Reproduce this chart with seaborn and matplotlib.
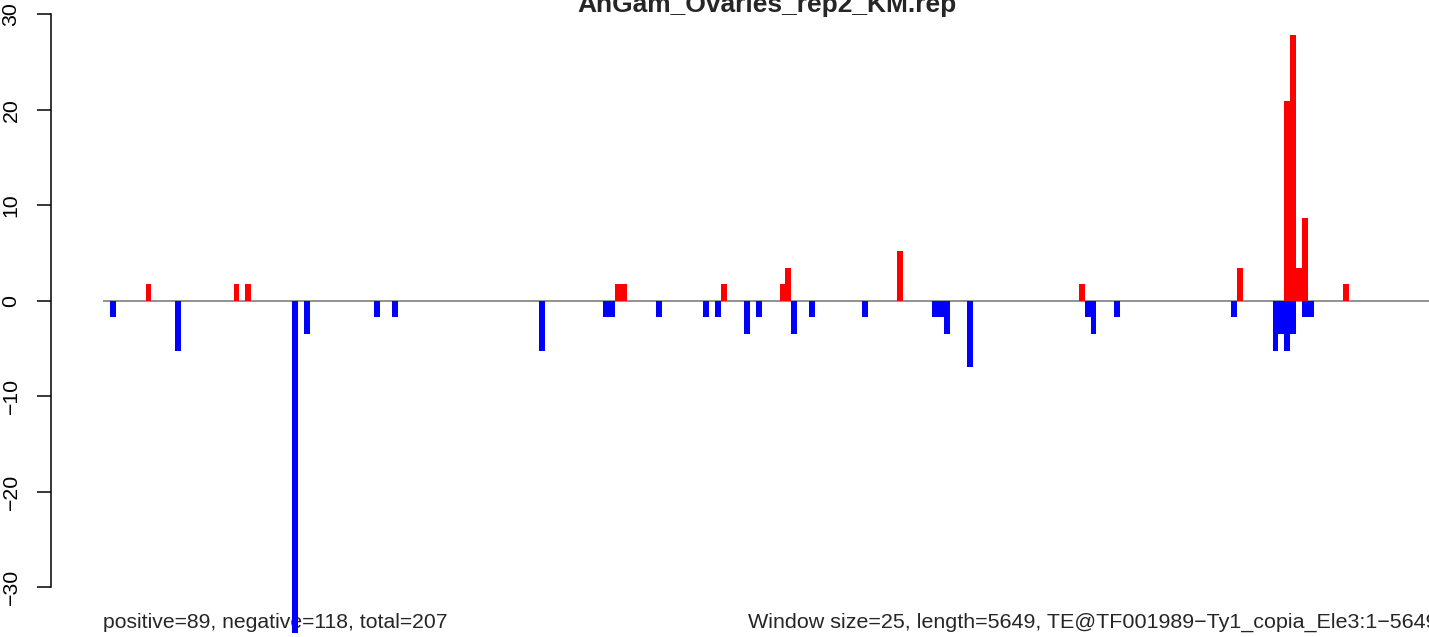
import numpy as np
import pandas as pd
import matplotlib
matplotlib.use("Agg")
import matplotlib.pyplot as plt
import seaborn as sns

# window size 25 over a 5649 bp element -> 226 windows
n_windows = 226

# windows with reads on the + strand (red) and their values
pos_windows = [7, 22, 24, 87, 88, 105, 115, 116, 135, 166, 193, 201, 202, 203, 204, 211]
pos_values = [1.74, 1.74, 1.74, 1.74, 1.74, 1.74, 1.74, 3.48, 5.22, 1.74, 3.48,
              20.88, 27.84, 3.48, 8.70, 1.74]

# windows with reads on the - strand (blue) and their values
neg_windows = [1, 12, 32, 34, 46, 49, 74, 85, 86, 94, 102, 104, 109, 111, 117, 120,
               129, 141, 142, 143, 147, 167, 168, 172, 192, 199, 200, 201, 202, 204, 205]
neg_values = [-1.74, -5.22, -34.80, -3.48, -1.74, -1.74, -5.22, -1.74, -1.74, -1.74,
              -1.74, -1.74, -3.48, -1.74, -3.48, -1.74, -1.74, -1.74, -1.74, -3.48,
              -6.96, -1.74, -3.48, -1.74, -1.74, -5.22, -3.48, -5.22, -3.48, -1.74, -1.74]

title = "AnGam_Ovaries_rep2_KM.rep"
left_note = "positive=89, negative=118, total=207"
right_note = "Window size=25, length=5649, TE@TF001989\u2212Ty1_copia_Ele3:1\u22125649"

# full table, one row per window
pos = np.zeros(n_windows)
neg = np.zeros(n_windows)
pos[pos_windows] = pos_values
neg[neg_windows] = neg_values
df = pd.DataFrame({"window": np.arange(n_windows), "pos": pos, "neg": neg})

sns.set_style("white")
plt.rcParams["font.family"] = ["Liberation Sans", "DejaVu Sans"]

W, H = 1429, 637
fig = plt.figure(figsize=(W / 100, H / 100), dpi=100)
ax = fig.add_axes([103.3 / W, 0, (W - 103.3) / W, 1])
ax.patch.set_visible(False)

ax.axhline(0, color="#7f7f7f", lw=1.2, zorder=1)
sns.barplot(data=df, x="window", y="pos", color="#ff0000", saturation=1, width=1,
            native_scale=True, errorbar=None, linewidth=0, ax=ax, zorder=2)
sns.barplot(data=df, x="window", y="neg", color="#0000ff", saturation=1, width=1,
            native_scale=True, errorbar=None, linewidth=0, ax=ax, zorder=2)

ax.set_xlim(-0.7, 225.15)
ax.set_ylim(-35.21, 31.49)
ax.set_xlabel("")
ax.set_ylabel("")
ax.set_xticks([])

for s in ["top", "right", "bottom"]:
    ax.spines[s].set_visible(False)
ax.spines["left"].set_visible(True)
ax.spines["left"].set_position(("outward", 37.7))
ax.spines["left"].set_bounds(-30, 30)
ax.spines["left"].set_color("black")
ax.spines["left"].set_linewidth(1.1)

ax.set_yticks(range(-30, 31, 10))
ax.tick_params(axis="y", direction="out", length=9.9, width=1.1, pad=12,
               labelsize=15.3, labelrotation=90, left=True, color="black",
               labelcolor="black")
for lab in ax.get_yticklabels():
    lab.set_va("center")

# title sits partly above the top edge, as in the original
fig.text(767 / W, 1 - 12 / H, title, ha="center", va="baseline",
         fontsize=19, fontweight="bold")
fig.text(103.3 / W, 9 / H, left_note, ha="left", va="baseline", fontsize=15.2, zorder=-1)
fig.text(748.3 / W, 9 / H, right_note, ha="left", va="baseline", fontsize=15.45, zorder=-1)

fig.savefig("out.png", dpi=100)
